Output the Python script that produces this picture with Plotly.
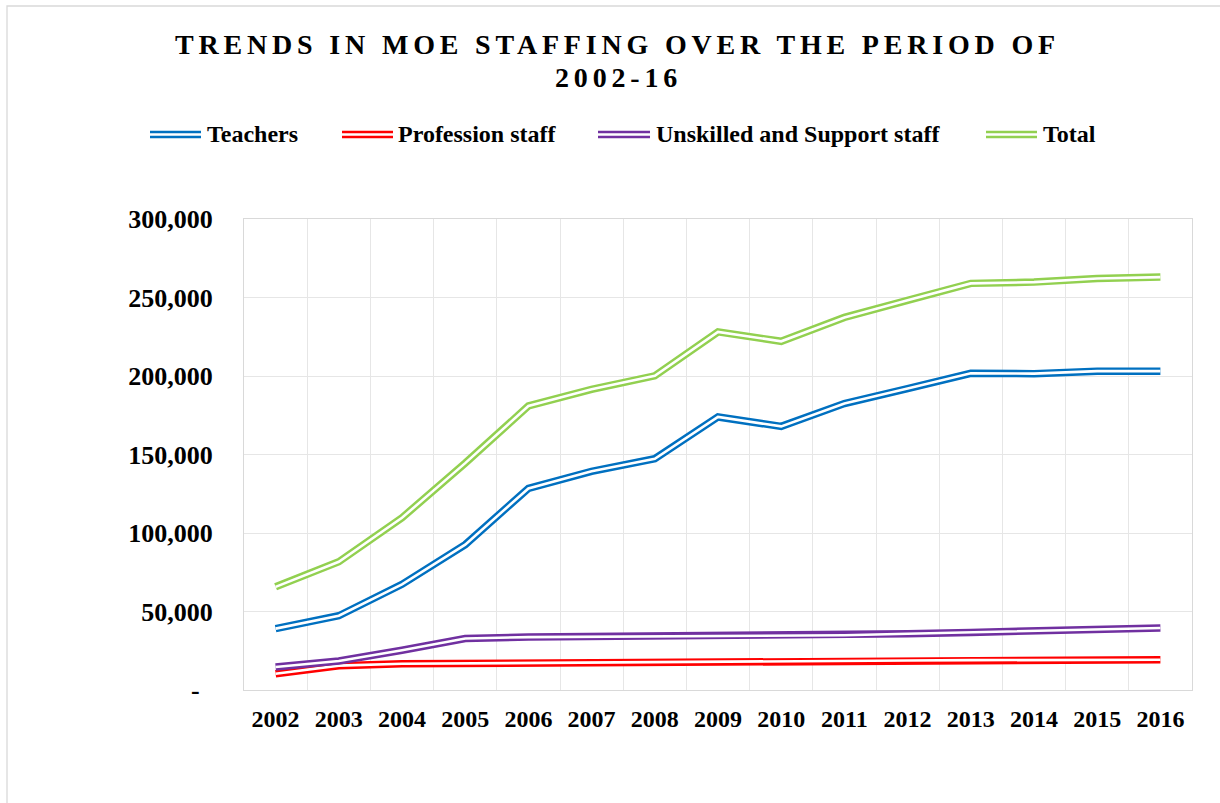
import plotly.graph_objects as go

# MOE staffing counts by year
years = [str(y) for y in range(2002, 2017)]
teachers = [39100, 47300, 67300, 92600, 128400, 139300, 147300, 173900,
            167900, 182500, 192000, 201700, 201500, 203100, 203100]
profession = [10400, 15500, 16700, 17000, 17400, 17700, 18000, 18300,
              18400, 18600, 18800, 19000, 19100, 19200, 19250]
unskilled = [14700, 18500, 25300, 32800, 33700, 33900, 34100, 34300,
             34400, 34900, 35800, 36700, 37700, 38600, 39500]
total = [65700, 81700, 109700, 144500, 180900, 191500, 200100, 228100,
         222100, 237300, 248200, 259000, 259800, 262100, 263000]

series_names = ["Teachers", "Profession staff", "Unskilled and Support staff", "Total"]
series_values = [teachers, profession, unskilled, total]
series_colors = ["#0070C0", "#FF0000", "#7030A0", "#92D050"]

y_ticks = [0, 50000, 100000, 150000, 200000, 250000, 300000]
y_tick_labels = ["-\u00a0\u00a0", "50,000", "100,000", "150,000",
                 "200,000", "250,000", "300,000"]

title_lines = ["TRENDS IN MOE STAFFING OVER THE PERIOD OF", "2002-16"]

# figure geometry (pixels)
W, H = 1220, 803
ML, MR, MT, MB = 244, 28, 219, 113
PW, PH = W - ML - MR, H - MT - MB

FONT = "Liberation Serif"
GRID = "#e6e6e6"
FRAME = "#d9d9d9"
OUTER_W, GAP_W = 7.5, 2.6   # compound "double" line: outer stroke and inner gap


def px_x(px):
    return (px - ML) / PW


def px_y(py):
    return (H - MB - py) / PH


fig = go.Figure()

# each series is drawn as a double line: a wide coloured stroke with a
# narrow white stroke along its middle
for name, vals, color in zip(series_names, series_values, series_colors):
    fig.add_trace(go.Scatter(x=years, y=vals, mode="lines", name=name,
                             line=dict(color=color, width=OUTER_W),
                             showlegend=False, hoverinfo="x+y+name"))
    fig.add_trace(go.Scatter(x=years, y=vals, mode="lines",
                             line=dict(color="white", width=GAP_W),
                             showlegend=False, hoverinfo="skip"))

shapes = []
annotations = []

# outer chart frame
shapes.append(dict(type="rect", xref="paper", yref="paper", layer="below",
                   x0=px_x(7), x1=px_x(1260), y0=px_y(840), y1=px_y(6),
                   line=dict(color=FRAME, width=1.3), fillcolor="rgba(0,0,0,0)"))

# legend row: swatch start, swatch end, label start (pixels)
legend_pos = [(150, 201, 207), (342, 393, 398), (598, 650, 656), (986, 1037, 1043)]
legend_y = 134.5
for (x0, x1, tx), name, color in zip(legend_pos, series_names, series_colors):
    for col, w in ((color, OUTER_W), ("white", GAP_W)):
        shapes.append(dict(type="line", xref="paper", yref="paper",
                           x0=px_x(x0), x1=px_x(x1), y0=px_y(legend_y), y1=px_y(legend_y),
                           line=dict(color=col, width=w)))
    annotations.append(dict(text=name, xref="paper", yref="paper",
                            x=px_x(tx - 2), y=px_y(legend_y), xanchor="left", yanchor="middle",
                            showarrow=False,
                            font=dict(family=FONT, size=24, color="black", weight="bold")))

# two-line spaced title
for line, cx, cy in zip(title_lines, (617.5, 618.0), (44.0, 77.2)):
    annotations.append(dict(
        text='<span style="letter-spacing:4.82px">' + line + '</span>',
        xref="paper", yref="paper", x=px_x(cx), y=px_y(cy),
        xanchor="center", yanchor="middle", showarrow=False,
        font=dict(family=FONT, size=28, color="black", weight="bold")))

fig.update_layout(
    width=W, height=H,
    margin=dict(l=ML, r=MR, t=MT, b=MB, pad=0, autoexpand=False),
    paper_bgcolor="white", plot_bgcolor="white",
    showlegend=False,
    shapes=shapes, annotations=annotations,
    xaxis=dict(type="category", range=[-0.5, len(years) - 0.5], automargin=False,
               tickson="boundaries", showgrid=True,
               gridcolor=GRID, gridwidth=1.3, showline=True, linecolor=FRAME,
               linewidth=1.3, mirror=True, ticks="", ticklabelstandoff=7,
               tickfont=dict(family=FONT, size=24, color="black", weight="bold")),
    yaxis=dict(range=[0, 300000], tickmode="array", tickvals=y_ticks, automargin=False,
               ticktext=y_tick_labels, showgrid=True, gridcolor=GRID, gridwidth=1.3,
               showline=True, linecolor=FRAME, linewidth=1.3, mirror=True,
               zeroline=False, ticks="", ticklabelstandoff=25,
               tickfont=dict(family=FONT, size=26, color="black", weight="bold")),
)

fig.write_html("out.html")
